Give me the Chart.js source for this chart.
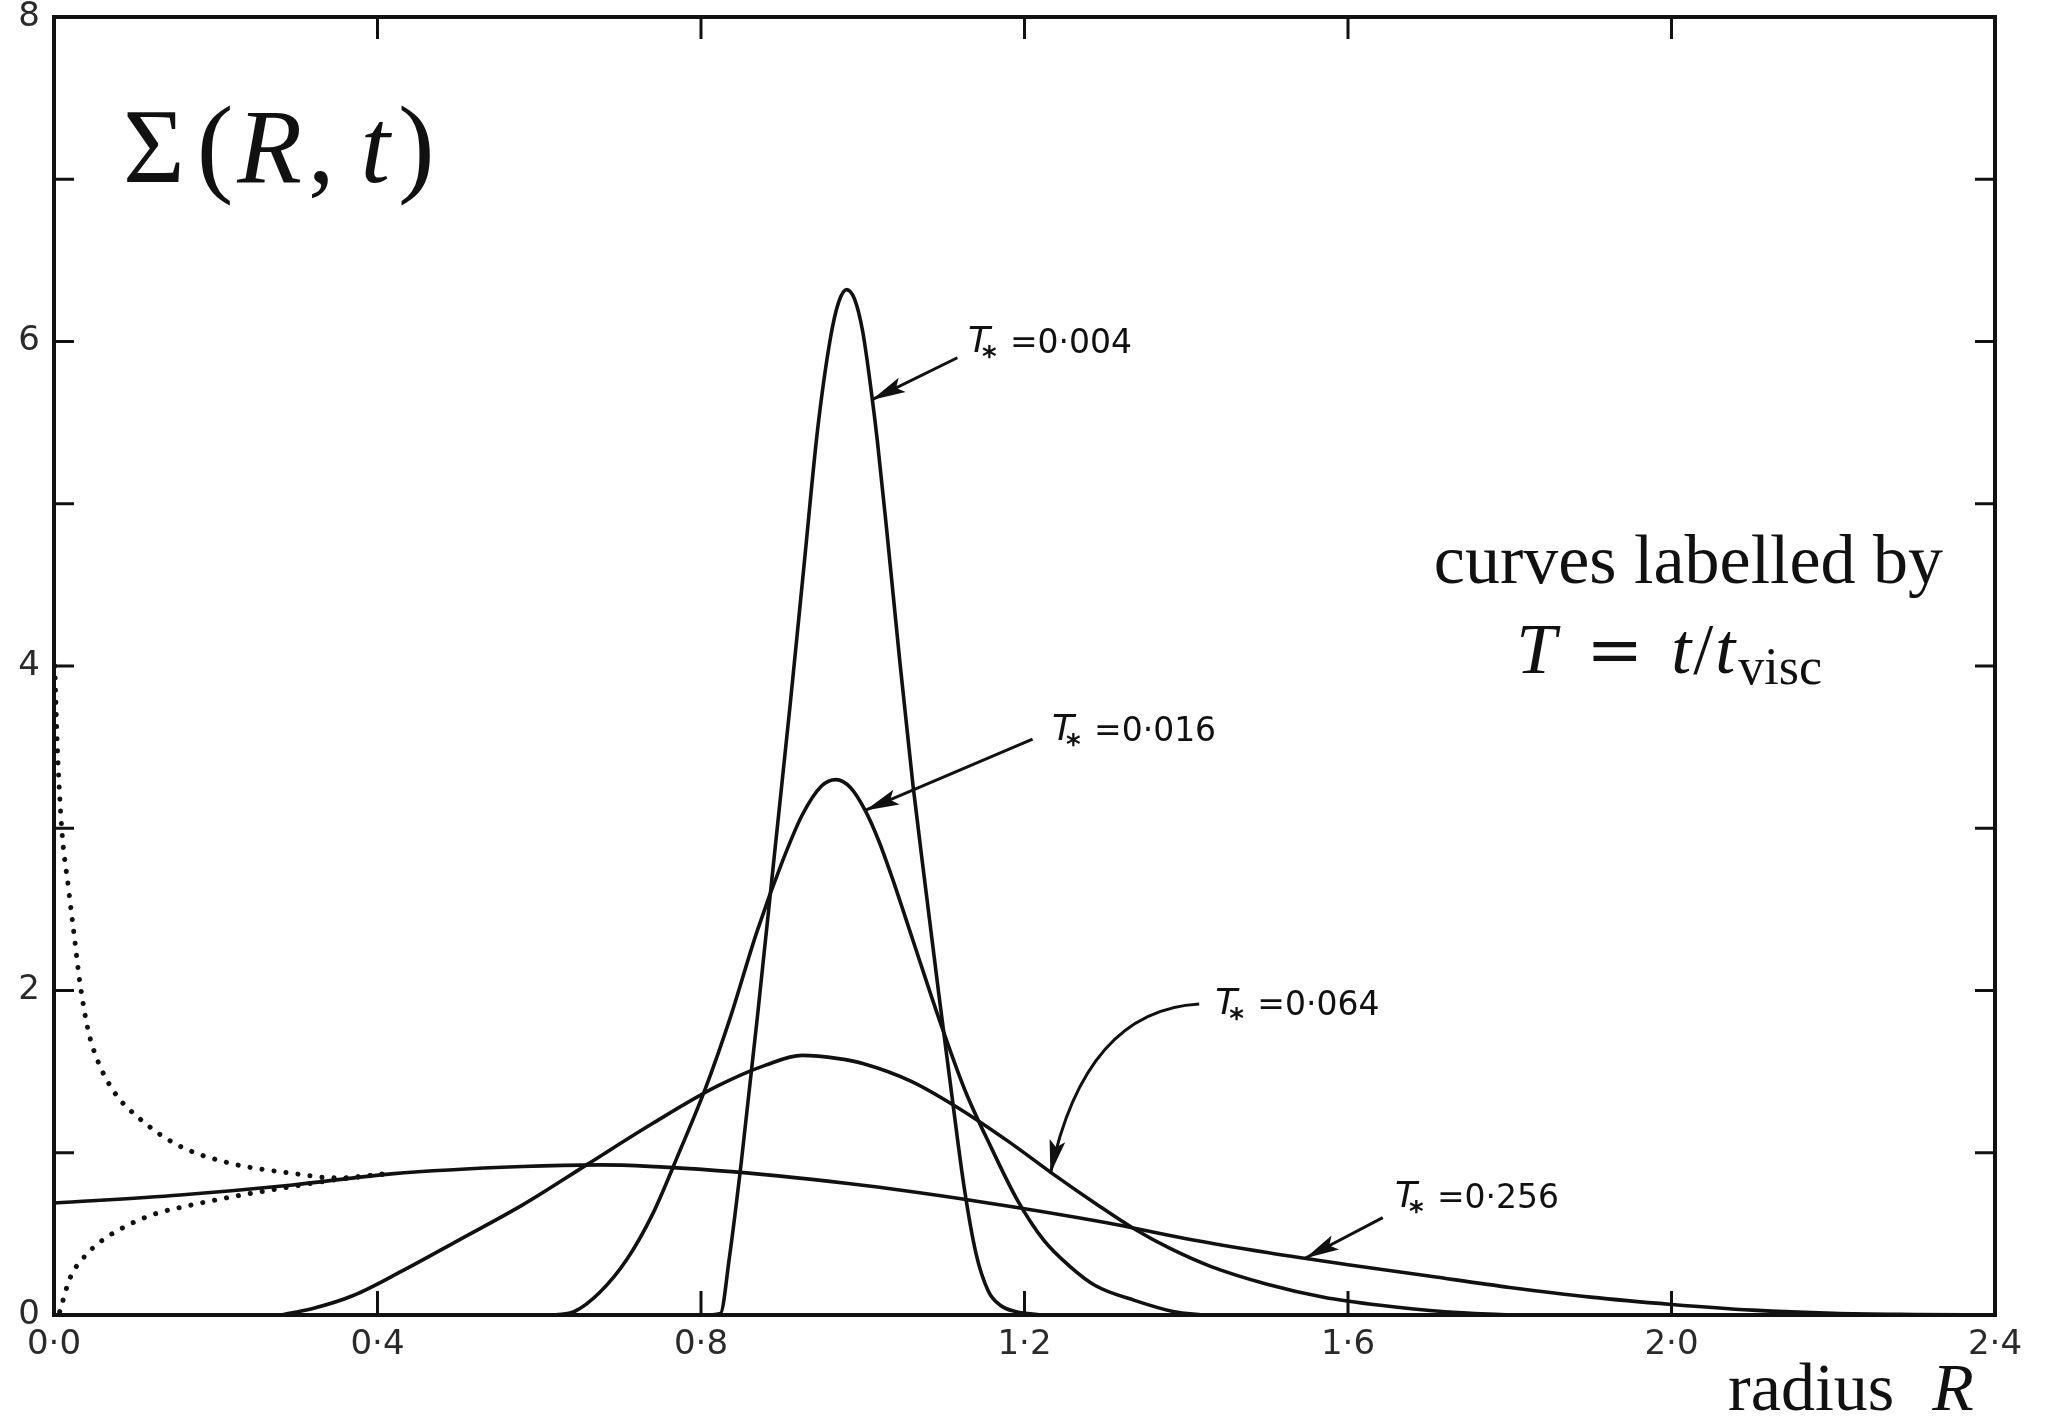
<!doctype html>
<html lang="en">
<head>
<meta charset="utf-8">
<title>Sigma(R,t) of a spreading ring</title>
<script src="https://cdn.jsdelivr.net/npm/chart.js@4.4.1/dist/chart.umd.min.js"></script>
<style>
  html, body { margin: 0; padding: 0; background: #fff; }
  #wrap { width: 2046px; height: 1416px; }
</style>
</head>
<body>
<div id="wrap"><canvas id="chart" width="2046" height="1416"></canvas></div>
<script>
// values: radius R and surface density for each curve
var r004 = [0.80, 0.824, 0.835, 0.85, 0.87, 0.89, 0.91, 0.928, 0.944, 0.96, 0.97, 0.98, 0.99, 1.0, 1.0114, 1.018, 1.03, 1.046, 1.062, 1.078, 1.094, 1.11, 1.125, 1.14, 1.155, 1.17, 1.19, 1.22];
var s004 = [0, 0.01, 0.35, 0.95, 1.85, 2.8, 3.75, 4.65, 5.45, 6.02, 6.24, 6.32, 6.26, 6.06, 5.66, 5.39, 4.82, 4.02, 3.27, 2.62, 1.98, 1.36, 0.8, 0.38, 0.15, 0.06, 0.02, 0];

var r016 = [0.62, 0.643, 0.675, 0.708, 0.74, 0.772, 0.805, 0.836, 0.869, 0.901, 0.925, 0.949, 0.967, 0.985, 1.003, 1.02, 1.036, 1.062, 1.094, 1.126, 1.159, 1.191, 1.224, 1.256, 1.288, 1.336, 1.385, 1.42];
var s016 = [0, 0.02, 0.14, 0.34, 0.62, 0.99, 1.39, 1.83, 2.36, 2.8, 3.08, 3.26, 3.3, 3.25, 3.11, 2.92, 2.7, 2.31, 1.83, 1.39, 1.03, 0.71, 0.46, 0.3, 0.18, 0.09, 0.02, 0];

var r064 = [0.28, 0.32, 0.37, 0.43, 0.5, 0.58, 0.66, 0.74, 0.82, 0.88, 0.925, 0.97, 1.0, 1.06, 1.12, 1.18, 1.235, 1.29, 1.336, 1.38, 1.43, 1.5, 1.57, 1.64, 1.72, 1.8];
var s064 = [0, 0.04, 0.12, 0.27, 0.46, 0.68, 0.93, 1.18, 1.41, 1.54, 1.6, 1.58, 1.55, 1.44, 1.27, 1.07, 0.87, 0.68, 0.53, 0.41, 0.3, 0.19, 0.11, 0.06, 0.02, 0];

var r256 = [0, 0.156, 0.292, 0.417, 0.579, 0.675, 0.82, 0.982, 1.143, 1.3, 1.4, 1.5, 1.6, 1.7, 1.8, 1.9, 2.0, 2.1, 2.2, 2.3, 2.4];
var s256 = [0.69, 0.74, 0.8, 0.87, 0.915, 0.925, 0.89, 0.81, 0.7, 0.57, 0.47, 0.385, 0.31, 0.24, 0.17, 0.11, 0.065, 0.03, 0.01, 0.003, 0];

// the two dotted curves near the centre
var rDotUp = [0.001, 0.004, 0.0095, 0.0177, 0.0247, 0.032, 0.042, 0.053, 0.075, 0.106, 0.152, 0.214, 0.292, 0.35, 0.42];
var sDotUp = [4.0, 3.52, 3.0, 2.64, 2.35, 2.05, 1.76, 1.58, 1.37, 1.21, 1.05, 0.94, 0.875, 0.845, 0.875];
var rDotLow = [0.007, 0.02, 0.036, 0.057, 0.09, 0.123, 0.172, 0.222, 0.292, 0.35, 0.42];
var sDotLow = [0.02, 0.23, 0.35, 0.45, 0.55, 0.62, 0.68, 0.73, 0.79, 0.835, 0.875];

var xTicks = [0, 0.4, 0.8, 1.2, 1.6, 2.0, 2.4];
var yTicks = [0, 2, 4, 6, 8];
var xMinor = [0.4, 0.8, 1.2, 1.6, 2.0];
var yMinor = [1, 2, 3, 4, 5, 6, 7];
var tauLabels = ['0·004', '0·016', '0·064', '0·256'];

// label and arrow spots, in data units
var labelAt = [[1.13, 5.98], [1.234, 3.59], [1.436, 1.9], [1.658, 0.71]];
var arrowFrom = [[1.117, 5.9], [1.21, 3.55], [1.416, 1.917], [1.643, 0.6]];
var arrowTo = [[1.011, 5.64], [1.003, 3.11], [1.232, 0.87], [1.547, 0.35]];
var arrowBend = [null, null, [1.275, 1.88], null];

function pts(rs, ss) {
    return rs.map(function (r, i) { return { x: r, y: ss[i] }; });
}

var INK = '#111';
var SANS = '"DejaVu Sans", sans-serif';
var SERIF = '"Liberation Serif", "DejaVu Serif", serif';

function solid(rs, ss) {
    return { data: pts(rs, ss), borderColor: INK, borderWidth: 3.6, pointRadius: 0, fill: false,
             cubicInterpolationMode: 'monotone' };
}
function dotted(rs, ss) {
    return { data: pts(rs, ss), borderColor: INK, borderWidth: 5, pointRadius: 0, fill: false,
             borderDash: [0.1, 12], borderCapStyle: 'round', cubicInterpolationMode: 'monotone' };
}

function drawRun(ctx, x, y, parts, align) {
    // parts: [text, font, gap before, dy]
    var total = 0;
    parts.forEach(function (p) { ctx.font = p[1]; total += (p[2] || 0) + ctx.measureText(p[0]).width; });
    var cx = align === 'center' ? x - total / 2 : x;
    parts.forEach(function (p) {
        ctx.font = p[1];
        cx += p[2] || 0;
        ctx.fillText(p[0], cx, y + (p[3] || 0));
        cx += ctx.measureText(p[0]).width;
    });
}

function arrowHead(ctx, tx, ty, dx, dy) {
    var len = Math.sqrt(dx * dx + dy * dy);
    var ux = dx / len, uy = dy / len;
    var L = 34, W = 8;
    ctx.beginPath();
    ctx.moveTo(tx, ty);
    ctx.lineTo(tx - ux * L - uy * W, ty - uy * L + ux * W);
    ctx.lineTo(tx - ux * L * 0.8, ty - uy * L * 0.8);
    ctx.lineTo(tx - ux * L + uy * W, ty - uy * L - ux * W);
    ctx.closePath();
    ctx.fill();
}

var framePlugin = {
    id: 'frame',
    afterDatasetsDraw: function (chart) {
        var ctx = chart.ctx, a = chart.chartArea;
        var xs = chart.scales.x, ys = chart.scales.y;
        ctx.save();
        ctx.strokeStyle = INK;
        ctx.lineWidth = 4;
        ctx.strokeRect(a.left, a.top, a.right - a.left, a.bottom - a.top);
        ctx.lineWidth = 3;
        ctx.beginPath();
        xMinor.forEach(function (v) {
            var px = xs.getPixelForValue(v);
            ctx.moveTo(px, a.bottom); ctx.lineTo(px, a.bottom - 24);
            ctx.moveTo(px, a.top); ctx.lineTo(px, a.top + 22);
        });
        yMinor.forEach(function (v) {
            var py = ys.getPixelForValue(v);
            ctx.moveTo(a.left, py); ctx.lineTo(a.left + 20, py);
            ctx.moveTo(a.right, py); ctx.lineTo(a.right - 20, py);
        });
        ctx.stroke();
        ctx.restore();
    }
};

var notesPlugin = {
    id: 'notes',
    afterDraw: function (chart) {
        var ctx = chart.ctx;
        var xs = chart.scales.x, ys = chart.scales.y;
        function X(v) { return xs.getPixelForValue(v); }
        function Y(v) { return ys.getPixelForValue(v); }
        ctx.save();
        ctx.fillStyle = INK;
        ctx.strokeStyle = INK;
        ctx.textBaseline = 'alphabetic';

        // big axis label inside the plot
        drawRun(ctx, X(0.0853), Y(6.983), [
            ['Σ', '106px ' + SERIF],
            ['(', '110px ' + SERIF, 12],
            ['R', 'italic 106px ' + SERIF, 4],
            [',', '106px ' + SERIF, 6],
            ['t', 'italic 106px ' + SERIF, 26],
            [')', '110px ' + SERIF, 8]
        ]);

        drawRun(ctx, X(2.021), Y(4.512), [['curves labelled by', '70px ' + SERIF]], 'center');
        drawRun(ctx, X(1.997), Y(3.957), [
            ['T', 'italic 72px ' + SERIF],
            ['=', '68px "DejaVu Serif", serif', 30],
            ['t', 'italic 72px ' + SERIF, 28],
            ['/', '72px ' + SERIF, 2],
            ['t', 'italic 72px ' + SERIF, 2],
            ['visc', '52px ' + SERIF, 3, 11]
        ], 'center');

        drawRun(ctx, X(2.07), Y(-0.585), [
            ['radius', '68px ' + SERIF],
            ['R', 'italic 68px ' + SERIF, 38]
        ]);

        // curve labels with their arrows
        ctx.lineWidth = 3;
        tauLabels.forEach(function (txt, i) {
            var lx = X(labelAt[i][0]), ly = Y(labelAt[i][1]);
            ctx.textBaseline = 'middle';
            ctx.font = 'italic 36px ' + SANS;
            ctx.fillText('T', lx, ly - 2);
            ctx.font = 'bold 28px ' + SANS;
            ctx.fillText('*', lx + 14, ly + 14);
            ctx.font = '33px ' + SANS;
            ctx.fillText('=' + txt, lx + 42, ly);

            var fx = X(arrowFrom[i][0]), fy = Y(arrowFrom[i][1]);
            var tx = X(arrowTo[i][0]), ty = Y(arrowTo[i][1]);
            ctx.beginPath();
            ctx.moveTo(fx, fy);
            if (arrowBend[i]) {
                var cx = X(arrowBend[i][0]), cy = Y(arrowBend[i][1]);
                ctx.quadraticCurveTo(cx, cy, tx, ty);
                ctx.stroke();
                arrowHead(ctx, tx, ty, tx - cx, ty - cy);
            } else {
                ctx.lineTo(tx, ty);
                ctx.stroke();
                arrowHead(ctx, tx, ty, tx - fx, ty - fy);
            }
        });
        ctx.restore();
    }
};

new Chart(document.getElementById('chart'), {
    type: 'line',
    data: {
        datasets: [
            solid(r004, s004),
            solid(r016, s016),
            solid(r064, s064),
            solid(r256, s256),
            dotted(rDotUp, sDotUp),
            dotted(rDotLow, sDotLow)
        ]
    },
    options: {
        responsive: false,
        animation: false,
        layout: { padding: { top: 17, right: 51, left: 0, bottom: 0 } },
        plugins: { legend: { display: false }, tooltip: { enabled: false } },
        scales: {
            x: {
                type: 'linear', min: 0, max: 2.4,
                grid: { display: false, drawTicks: false },
                border: { display: false },
                afterBuildTicks: function (s) { s.ticks = xTicks.map(function (v) { return { value: v }; }); },
                afterFit: function (s) { s.height = 101; s.paddingLeft = 0; s.paddingRight = 0; },
                ticks: {
                    padding: 10, color: '#2a2a2a', maxRotation: 0, autoSkip: false,
                    font: { family: SANS, size: 34 },
                    callback: function (v) { return Number(v).toFixed(1).replace('.', '·'); }
                }
            },
            y: {
                type: 'linear', min: 0, max: 8,
                grid: { display: false, drawTicks: false },
                border: { display: false },
                afterBuildTicks: function (s) { s.ticks = yTicks.map(function (v) { return { value: v }; }); },
                afterFit: function (s) { s.width = 54; s.paddingTop = 0; s.paddingBottom = 0; },
                ticks: {
                    padding: 14, color: '#2a2a2a',
                    font: { family: SANS, size: 34 },
                    callback: function (v) { return String(v); }
                }
            }
        }
    },
    plugins: [framePlugin, notesPlugin]
});
</script>
</body>
</html>
